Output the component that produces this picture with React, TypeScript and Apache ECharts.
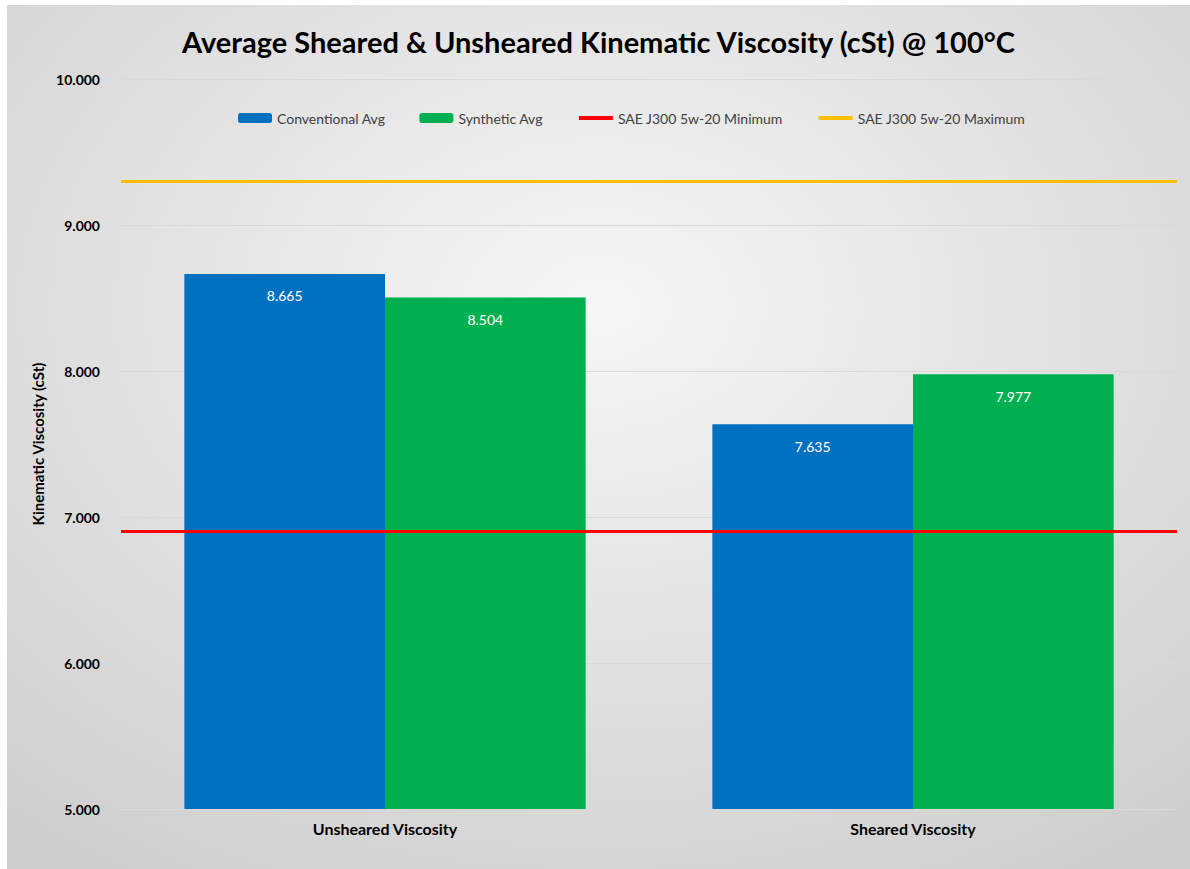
import React, { useEffect, useRef } from "react";
import * as echarts from "echarts";

const categories = ["Unsheared Viscosity", "Sheared Viscosity"];
const conventionalAvg = [8.665, 7.635];
const syntheticAvg = [8.504, 7.977];
const saeMinimum = 6.9;
const saeMaximum = 9.3;
const yTicks = { min: 5, max: 10, interval: 1 };

const FONT = "Lato, 'Open Sans', sans-serif";

export default function App() {
  const ref = useRef<HTMLDivElement>(null);
  useEffect(() => {
    document.body.style.margin = "0";
    document.body.style.background = "#ffffff";
    const chart = echarts.init(ref.current!, undefined, { renderer: "svg" });
    const labelOpt = {
      show: true,
      position: "insideTop",
      distance: 15,
      color: "#ffffff",
      fontSize: 14,
      fontFamily: FONT,
      formatter: (p: any) => Number(p.value).toFixed(3),
    };
    chart.setOption({
      animation: false,
      backgroundColor: {
        type: "radial",
        x: 0.5,
        y: 0.35,
        r: 0.8,
        colorStops: [
          { offset: 0, color: "#f6f6f6" },
          { offset: 1, color: "#cdcdcd" },
        ],
      },
      title: {
        text: "Average Sheared & Unsheared Kinematic Viscosity (cSt) @ 100°C",
        left: "center",
        top: 17,
        textStyle: { fontSize: 29, fontWeight: "bold", color: "#000", fontFamily: FONT },
      },
      legend: {
        top: 101,
        left: 226,
        itemWidth: 34,
        itemHeight: 10,
        itemGap: 34,
        textStyle: { fontSize: 14, color: "#404040", fontFamily: FONT },
        data: [
          { name: "Conventional Avg" },
          { name: "Synthetic Avg" },
          { name: "SAE J300 5w-20 Minimum", itemStyle: { opacity: 0 }, lineStyle: { width: 4 } },
          { name: "SAE J300 5w-20 Maximum", itemStyle: { opacity: 0 }, lineStyle: { width: 4 } },
        ],
      },
      grid: { left: 114, right: 13, top: 74, bottom: 60 },
      xAxis: {
        type: "category",
        data: categories,
        axisLine: { show: true, lineStyle: { color: "#d9d9d9" } },
        axisTick: { show: false },
        axisLabel: { fontSize: 16, fontWeight: "bold", color: "#000", margin: 11, fontFamily: FONT },
      },
      yAxis: {
        type: "value",
        min: yTicks.min,
        max: yTicks.max,
        interval: yTicks.interval,
        name: "Kinematic Viscosity (cSt)",
        nameLocation: "middle",
        nameGap: 76,
        nameTextStyle: { fontSize: 15, fontWeight: "bold", color: "#000", fontFamily: FONT },
        axisLine: { show: false },
        axisTick: { show: false },
        axisLabel: {
          fontSize: 14,
          fontWeight: "bold",
          color: "#000",
          margin: 21,
          fontFamily: FONT,
          formatter: (v: number) => v.toFixed(3),
        },
        splitLine: { lineStyle: { color: "#d9d9d9", width: 1 } },
      },
      series: [
        {
          name: "Conventional Avg",
          type: "bar",
          data: conventionalAvg,
          barGap: "0%",
          barCategoryGap: "24%",
          itemStyle: { color: "#0070C0" },
          label: labelOpt,
        },
        {
          name: "Synthetic Avg",
          type: "bar",
          data: syntheticAvg,
          itemStyle: { color: "#00B050" },
          label: labelOpt,
        },
        {
          name: "SAE J300 5w-20 Minimum",
          type: "line",
          data: [],
          symbol: "none",
          color: "#FF0000",
          lineStyle: { color: "#FF0000", width: 3 },
          markLine: {
            silent: true,
            symbol: ["none", "none"],
            label: { show: false },
            lineStyle: { color: "#FF0000", width: 3, type: "solid" },
            data: [{ yAxis: saeMinimum }],
          },
        },
        {
          name: "SAE J300 5w-20 Maximum",
          type: "line",
          data: [],
          symbol: "none",
          color: "#FFC000",
          lineStyle: { color: "#FFC000", width: 3 },
          markLine: {
            silent: true,
            symbol: ["none", "none"],
            label: { show: false },
            lineStyle: { color: "#FFC000", width: 3, type: "solid" },
            data: [{ yAxis: saeMaximum }],
          },
        },
      ],
    });
    return () => chart.dispose();
  }, []);
  return (
    <div style={{ paddingTop: 5, paddingLeft: 7, background: "#fff" }}>
      <div ref={ref} style={{ width: 1183, height: 864 }} />
    </div>
  );
}
